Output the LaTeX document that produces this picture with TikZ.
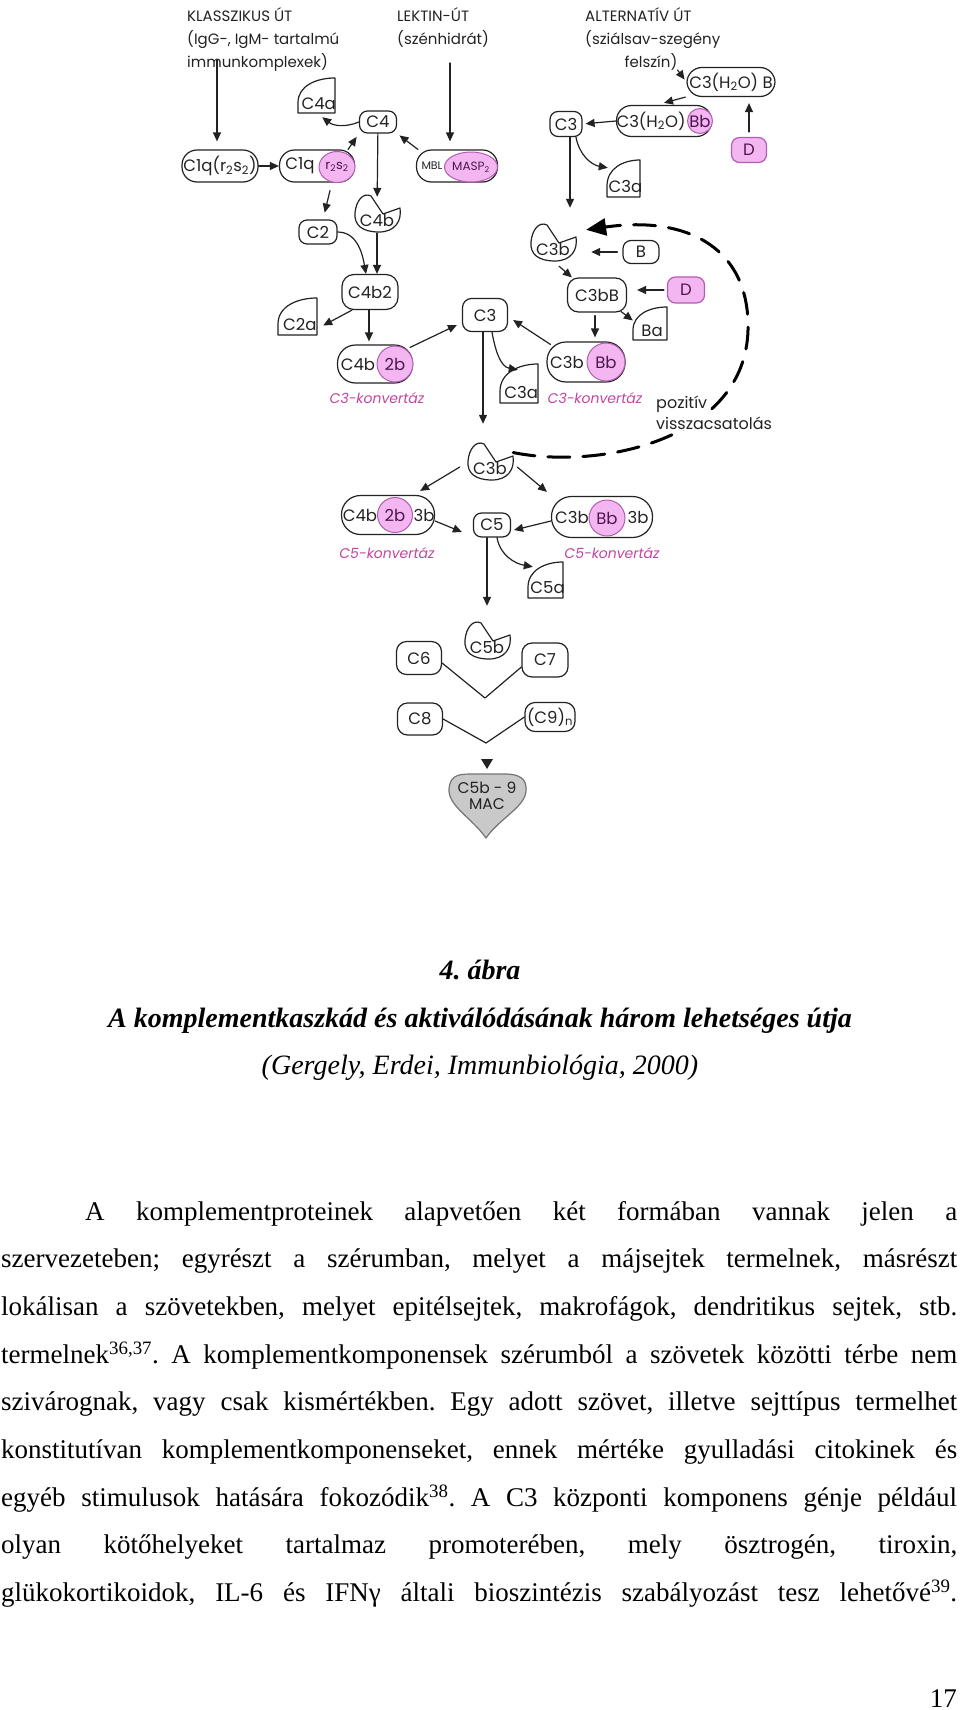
\documentclass[tikz,border=0pt]{standalone}
\usepackage{fontspec}
\setmainfont{Liberation Serif}
\newfontfamily\dg{Poppins}
\newcommand\dgs[1]{\dg\fontsize{#1}{#1}\selectfont}
\usetikzlibrary{arrows.meta,shapes.geometric}
\definecolor{pinkfill}{HTML}{F3B6F1}
\definecolor{pinkline}{HTML}{B25CB2}
\definecolor{pinktext}{HTML}{4C1650}
\definecolor{konvcol}{HTML}{C2459E}
\definecolor{macgray}{HTML}{C9C9C9}
\definecolor{ink}{HTML}{222222}
\frenchspacing

\tikzset{
  shapeline/.style={draw=ink, line width=1.2pt},
  lbl/.style={font=\dgs{16.5}, text=ink, inner sep=0pt},
  box/.style={draw=ink, line width=1.2pt, rounded corners=8pt, font=\dgs{16.5}, text=ink, inner sep=0pt},
  pill/.style={box, rounded corners=15pt},
  pbox/.style={box, fill=pinkfill, draw=pinkline, text=pinktext},
  dot/.style={draw=pinkline, fill=pinkfill, line width=1pt, inner sep=0pt, font=\dgs{16.5}, text=pinktext},
  conv/.style={font=\dgs{14}\itshape, text=konvcol, inner sep=0pt},
  head/.style={font=\dgs{15}, text=ink, anchor=base west, inner sep=0pt},
  arr/.style={draw=ink, -{Triangle[length=9pt,width=8pt]}, line width=1.2pt},
  feedback/.style={draw=black, line width=3pt, dash pattern=on 22pt off 13pt, -{Triangle[length=20pt,width=17pt]}},
  body/.style={font=\fontsize{27}{30}\selectfont, anchor=base west, inner sep=0pt},
  captxt/.style={font=\fontsize{28}{30}\selectfont, anchor=base, inner sep=0pt},
}

% split-off fragment (C4a, C2a, ...): name, x0, y0, x1, y1, text
\newcommand\frag[6]{%
  \draw[shapeline] (#2,#5) -- (#2,{#5-0.3*(#5-#3)})
    .. controls (#2,{#3+0.22*(#5-#3)}) and ({#4-0.5*(#4-#2)},#3) .. (#4,#3) -- (#4,#5) -- cycle;
  \node[inner sep=0pt, minimum width={(#4-#2)*1pt}, minimum height={(#5-#3)*1pt}] (#1) at ({(#2+#4)/2},{(#3+#5)/2}) {};
  \node[lbl] (#1t) at ({#2+0.56*(#4-#2)},{#3+0.72*(#5-#3)}) {#6};
}
% notched fragment (C3b, C4b, C5b): name, cx, cy, text
\newcommand\pac[4]{%
  \draw[shapeline, shift={(#2,#3)}] (-6,-17) -- (6,1) -- (23,-5)
    .. controls (25,8) and (18,19) .. (2,19) .. controls (-15,19) and (-23,12) .. (-22,0)
    .. controls (-21,-12) and (-14,-21) .. (-6,-17) -- cycle;
  \node[inner sep=0pt, minimum width=46pt, minimum height=40pt] (#1) at (#2,#3) {};
  \node[lbl] (#1t) at (#2,{#3+7}) {#4};
}

\begin{document}
\begin{tikzpicture}[x=1pt, y=-1pt, line join=round, line cap=round]
\useasboundingbox (0,0) rectangle (960,1710);

% pathway headers
\node[head] (kl1) at (187,22) {KLASSZIKUS ÚT};
\node[head] (kl2) at (187,45) {(IgG-, IgM- tartalmú};
\node[head] (kl3) at (187,67) {immunkomplexek)};
\node[head] (le1) at (397,22) {LEKTIN-ÚT};
\node[head] (le2) at (397,45) {(szénhidrát)};
\node[head] (al1) at (585,22) {ALTERNATÍV ÚT};
\node[head] (al2) at (585,45) {(sziálsav-szegény};
\node[head, anchor=base] (al3) at (651,67) {felszín)};
\coordinate (klfoot) at (217,60);
\coordinate (lefoot) at (450,63);

% classical and lectin pathway
\node[pill, minimum width=76pt, minimum height=32pt] (c1qrs) at (220,166) {C1q(r\textsubscript{2}s\textsubscript{2})};
\node[pill, minimum width=75pt, minimum height=32pt] (c1q) at (317,166) {};
\node[lbl] (c1qt) at (300,166) {C1q};
\node[dot, ellipse, minimum width=36pt, minimum height=31pt, font=\dgs{13}] (rs) at (337,167) {r\textsubscript{2}s\textsubscript{2}};
\node[pill, minimum width=81pt, minimum height=32pt] (mbl) at (457,166) {};
\node[lbl, font=\dgs{11}] (mblt) at (432,166) {MBL};
\node[dot, ellipse, minimum width=53pt, minimum height=30pt, font=\dgs{12}] (masp) at (471,167) {MASP\textsubscript{2}};
\node[box, minimum width=37pt, minimum height=22pt] (c4) at (378,122) {C4};
\frag{c4a}{298}{78}{335}{113}{C4a}
\pac{c4b}{377}{213}{C4b}
\node[box, minimum width=38pt, minimum height=24pt] (c2) at (318,232) {C2};
\node[box, rounded corners=12pt, minimum width=56pt, minimum height=35pt] (c4b2) at (370,292) {C4b2};
\frag{c2a}{278}{298}{317}{335}{C2a}
\node[pill, rounded corners=18pt, minimum width=75pt, minimum height=38pt] (c42b) at (375,364) {};
\node[lbl] (c42bt) at (358,364) {C4b};
\node[dot, circle, minimum size=36pt] (c42bd) at (395,364) {2b};
\node[conv] (konv1) at (377,398) {C3-konvertáz};

\draw[arr, shorten >=8pt] (klfoot) -- (c1qrs.north -| klfoot);
\draw[arr, shorten >=8pt] (lefoot) -- (mbl.north -| lefoot);
\draw[arr] (c1qrs) -- (c1q);
\draw[arr, shorten >=4pt] ([xshift=-7pt]c1q.north east) -- (c4.south west);
\draw[arr, shorten >=3pt] ([xshift=2pt]mbl.north west) -- (c4.south east);
\draw[arr] (c4.west) to[bend left=30] ([xshift=-13pt, yshift=-4pt]c4a.south east);
\draw[arr, shorten >=-4pt] (c4) -- (c4b);
\draw[arr, shorten >=7pt] ([xshift=13pt, yshift=-8pt]c1q.south) -- ([xshift=5pt]c2.north);
\draw[arr] (c2.east) to[out=0, in=100] ([xshift=-4pt]c4b2.north);
\draw[arr] (c4b.south) -- (c4b.south |- c4b2.north);
\draw[arr] ([xshift=-18pt]c4b2.south) -- ([xshift=6pt, yshift=-9pt]c2a.east);
\draw[arr, shorten >=3pt] ([xshift=-1pt]c4b2.south) -- ([xshift=-1pt]c4b2.south |- c42b.north);

% central C3
\node[box, rounded corners=9pt, minimum width=45pt, minimum height=33pt] (c3m) at (485,315) {C3};
\frag{c3am}{500}{364}{538}{403}{C3a}
\draw[arr] ([xshift=-3pt, yshift=-3pt]c42b.north east) -- ([xshift=-5pt, yshift=-10pt]c3m.west);
\draw[arr] ([xshift=7pt]c3m.south) to[out=-80, in=170] ([xshift=18pt, yshift=-6pt]c3am.north west);

% alternative pathway
\node[pill, minimum width=88pt, minimum height=29pt] (c3h2ob) at (731,82) {C3(H\textsubscript{2}O) B};
\node[pill, minimum width=95pt, minimum height=31pt] (c3h2obb) at (664,121) {};
\node[lbl] (c3h2obbt) at (651,121) {C3(H\textsubscript{2}O)};
\node[dot, circle, minimum size=25pt] (c3h2obbd) at (700,121) {Bb};
\node[pbox, minimum width=35pt, minimum height=25pt] (du) at (749,150) {D};
\node[box, minimum width=32pt, minimum height=25pt] (c3u) at (566,124) {C3};
\frag{c3au}{607}{160}{640}{197}{C3a}
\pac{c3bu}{553}{242}{C3b}
\node[box, minimum width=36pt, minimum height=23pt] (bnode) at (641,252) {B};
\node[box, rounded corners=11pt, minimum width=59pt, minimum height=34pt] (c3bB) at (597,295) {C3bB};
\node[pbox, minimum width=37pt, minimum height=26pt] (dm) at (686,290) {D};
\frag{ba}{633}{307}{667}{340}{Ba}
\node[pill, rounded corners=19pt, minimum width=78pt, minimum height=40pt] (c3bbb) at (586,362) {};
\node[lbl] (c3bbbt) at (567,362) {C3b};
\node[dot, circle, minimum size=38pt] (c3bbbd) at (606,362) {Bb};
\node[conv] (konv2) at (595,398) {C3-konvertáz};

\draw[arr, shorten >=3pt] (al3.south east) -- (c3h2ob.west);
\draw[arr] ([xshift=-1pt]c3h2ob.south west) -- ([yshift=2pt]c3h2obb.north);
\draw[arr, shorten <=5pt, shorten >=6pt] (du.north) -- (du.north |- c3h2ob.south);
\draw[arr, shorten >=3pt] (c3h2obb.west) -- (c3u.east);
\draw[arr, shorten >=14pt] ([xshift=4pt]c3u.south) -- ([xshift=4pt]c3u.south |- c3bu.north);
\draw[arr] ([xshift=10pt]c3u.south) to[out=-80, in=170] ([xshift=1pt, yshift=-8pt]c3au.north west);
\draw[arr, shorten <=5pt, shorten >=15pt] (bnode.west) -- (c3bu.east |- bnode.west);
\draw[arr] ([xshift=6pt, yshift=-4pt]c3bu.south) -- ([xshift=5pt]c3bB.north west);
\draw[arr, shorten <=3pt, shorten >=10pt] (dm.west) -- (c3bB.east |- dm.west);
\draw[arr] ([xshift=-6pt, yshift=1pt]c3bB.south east) -- ([yshift=3pt]ba.west);
\draw[arr, shorten <=3pt, shorten >=4pt] ([xshift=-2pt]c3bB.south) -- ([xshift=-2pt]c3bB.south |- c3bbb.north);
\draw[arr] ([xshift=4pt, yshift=-3pt]c3bbb.north west) -- ([xshift=5pt, yshift=-5pt]c3m.east);

% C5 convertases
\pac{c3bl}{490}{461}{C3b}
\node[pill, rounded corners=19pt, minimum width=93pt, minimum height=39pt] (c42b3b) at (388,515) {};
\node[lbl] (c42b3bt) at (360,515) {C4b};
\node[dot, circle, minimum size=35pt] (c42b3bd) at (395,515) {2b};
\node[lbl] (c42b3bu) at (424,515) {3b};
\node[pill, rounded corners=20pt, minimum width=101pt, minimum height=41pt] (c3bbb3b) at (602,517) {};
\node[lbl] (c3bbb3bt) at (572,517) {C3b};
\node[dot, circle, minimum size=36pt] (c3bbb3bd) at (607,518) {Bb};
\node[lbl] (c3bbb3bu) at (638,517) {3b};
\node[box, minimum width=37pt, minimum height=24pt] (c5) at (492,525) {C5};
\node[conv] (konv3) at (387,553) {C5-konvertáz};
\node[conv] (konv4) at (612,553) {C5-konvertáz};
\frag{c5a}{528}{562}{563}{598}{C5a}
\pac{c5b}{487}{640}{C5b}

\draw[arr, shorten >=17pt] ([xshift=-2pt]c3m.south) -- ([xshift=-2pt]c3m.south |- c3bl.north);
\draw[feedback, shorten >=10pt] (c3bl.20) .. controls (600,470) and (745,440) .. (748,330)
  .. controls (750,250) and (690,215) .. (c3bu.25);
\node[head, font=\dgs{16}, fill=white, inner sep=1pt] (poz1) at (655,408) {pozitív};
\node[head, font=\dgs{16}, fill=white, inner sep=1pt] (poz2) at (655,429) {visszacsatolás};
\draw[arr] ([xshift=-7pt, yshift=-6pt]c3bl.west) -- ([xshift=-15pt, yshift=4pt]c42b3b.north east);
\draw[arr] ([xshift=4pt, yshift=-6pt]c3bl.east) -- ([xshift=-4pt, yshift=4pt]c3bbb3b.north west);
\draw[arr] ([yshift=-6pt]c42b3b.east) -- ([xshift=-11pt, yshift=-7pt]c5.west);
\draw[arr] ([yshift=-4pt]c3bbb3b.west) -- ([xshift=3pt, yshift=-5pt]c5.east);
\draw[arr, shorten >=14pt] ([xshift=-5pt]c5.south) -- ([xshift=-5pt]c5.south |- c5b.north);
\draw[arr] ([xshift=5pt]c5.south) to[out=-80, in=170] ([xshift=5pt, yshift=-5pt]c5a.north west);

% terminal components
\node[box, rounded corners=10pt, minimum width=45pt, minimum height=33pt] (c6) at (419,658) {C6};
\node[box, rounded corners=10pt, minimum width=46pt, minimum height=34pt] (c7) at (545,660) {C7};
\node[box, rounded corners=10pt, minimum width=45pt, minimum height=32pt] (c8) at (420,719) {C8};
\node[box, rounded corners=10pt, minimum width=50pt, minimum height=29pt] (c9) at (550,717) {(C9)\textsubscript{n}};
\coordinate (j1) at (485,698);
\coordinate (j2) at (486,743);
\draw[shapeline] ([yshift=-5pt]c6.east) -- (j1) -- ([yshift=-7pt]c7.west);
\draw[shapeline] (c8.east) -- (j2) -- (c9.west);
\fill[ink] (481,759) -- (493,759) -- (487,769) -- cycle;
\draw[shapeline, draw=black!55, fill=macgray] (486,838) .. controls (472,818) and (448,806) .. (449,789)
  .. controls (450,777) and (456,774) .. (470,774) -- (505,774)
  .. controls (520,774) and (527,779) .. (526,791) .. controls (525,807) and (500,818) .. (486,838) -- cycle;
\node[inner sep=0pt, minimum width=79pt, minimum height=65pt] (mac) at (487,805) {};
\node[lbl, font=\dgs{15.5}] (mact1) at (487,788) {C5b - 9};
\node[lbl, font=\dgs{15.5}] (mact2) at (487,804) {MAC};

% caption
\node[captxt] (f1) at (480,979) {\bfseries\itshape 4. ábra};
\node[captxt] (f2) at (480,1027) {\bfseries\itshape A komplementkaszkád és aktiválódásának három lehetséges útja};
\node[captxt] (f3) at (480,1074) {\itshape (Gergely, Erdei, Immunbiológia, 2000)};

% body text
\node[body] (p1) at (85,1220) {\makebox[872pt][s]{A komplementproteinek alapvetően két formában vannak jelen a}};
\node[body] (p2) at (1,1267.7) {\makebox[956pt][s]{szervezeteben; egyrészt a szérumban, melyet a májsejtek termelnek, másrészt}};
\node[body] (p3) at (1,1315.4) {\makebox[956pt][s]{lokálisan a szövetekben, melyet epitélsejtek, makrofágok, dendritikus sejtek, stb.}};
\node[body] (p4) at (1,1363.1) {\makebox[956pt][s]{termelnek\textsuperscript{36,37}. A komplementkomponensek szérumból a szövetek közötti térbe nem}};
\node[body] (p5) at (1,1410.8) {\makebox[956pt][s]{szivárognak, vagy csak kismértékben. Egy adott szövet, illetve sejttípus termelhet}};
\node[body] (p6) at (1,1458.5) {\makebox[956pt][s]{konstitutívan komplementkomponenseket, ennek mértéke gyulladási citokinek és}};
\node[body] (p7) at (1,1506.2) {\makebox[956pt][s]{egyéb stimulusok hatására fokozódik\textsuperscript{38}. A C3 központi komponens génje például}};
\node[body] (p8) at (1,1553.9) {\makebox[956pt][s]{olyan kötőhelyeket tartalmaz promoterében, mely ösztrogén, tiroxin,}};
\node[body] (p9) at (1,1601.6) {\makebox[956pt][s]{glükokortikoidok, IL-6 és IFNγ általi bioszintézis szabályozást tesz lehetővé\textsuperscript{39}.}};
\node[body, anchor=base east] (pg) at (957,1707) {17};
\end{tikzpicture}
\end{document}
